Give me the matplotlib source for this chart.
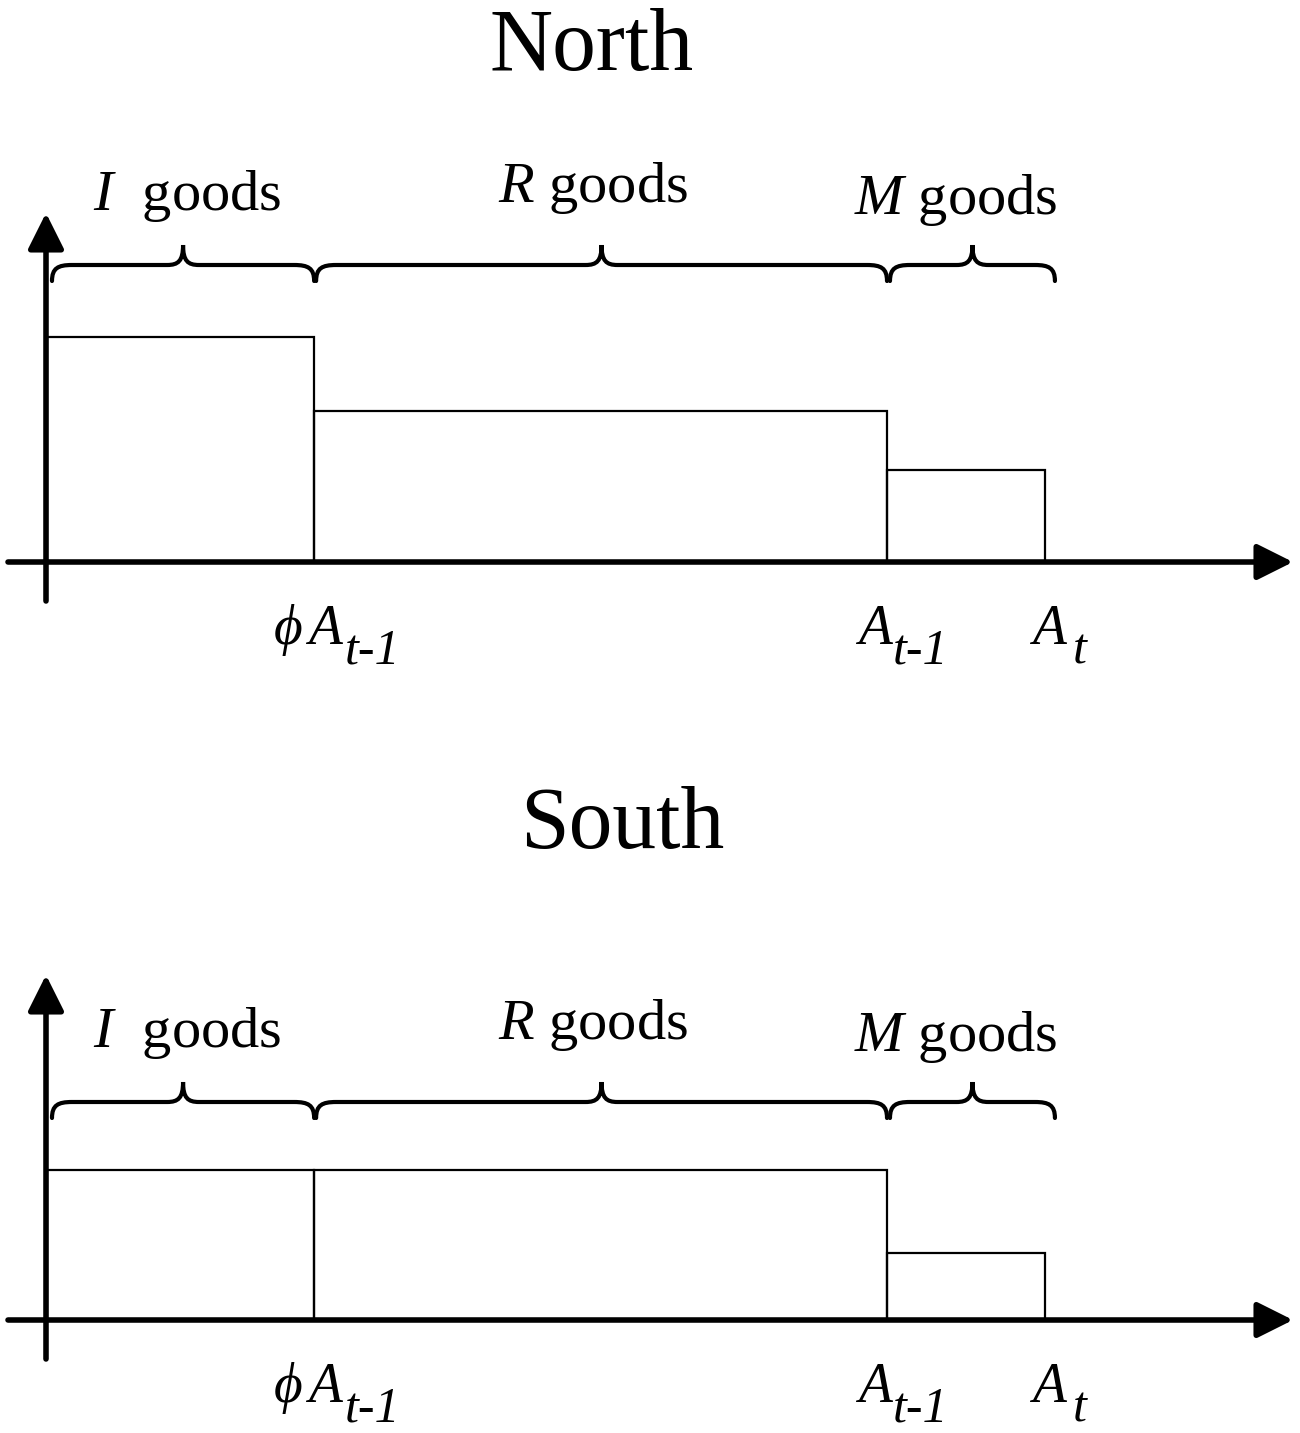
import numpy as np
import matplotlib
matplotlib.use('Agg')
import matplotlib.pyplot as plt
from matplotlib.path import Path
from matplotlib.patches import PathPatch

plt.rcParams['font.family'] = ['Liberation Serif', 'DejaVu Serif']
plt.rcParams['mathtext.fontset'] = 'custom'
plt.rcParams['mathtext.it'] = 'Liberation Serif:italic'
plt.rcParams['mathtext.rm'] = 'Liberation Serif'

# Data: interval edges 0, phi*A_{t-1}, A_{t-1}, A_t and bar heights per region
edges = [0.0, 0.318, 1.0, 1.188]
north_heights = [2.25, 1.51, 0.92]
south_heights = [1.50, 1.50, 0.67]
good_types = ['I', 'R', 'M']
good_labels = [r'$I$  goods', r'$R$ goods', r'$M$ goods']
panels = ['North', 'South']

# pixel -> data unit conversion (both axes span full figure width)
PX_X = 1 / 840.0
PX_Y = 1 / 100.0


def draw_brace(ax, x0, x1, y, lw=3.0):
    """Horizontal curly brace, opening downward, tip pointing up."""
    xc = (x0 + x1) / 2
    e, d, r, t = 16 * PX_Y, 20 * PX_Y, 20 * PX_X, 16 * PX_X
    verts = [
        (x0, y - e), (x0, y - 0.2 * e), (x0 + 0.3 * r, y), (x0 + r, y),
        (xc - t, y),
        (xc - 0.3 * t, y), (xc, y + 0.2 * d), (xc, y + d),
        (xc, y + 0.2 * d), (xc + 0.3 * t, y), (xc + t, y),
        (x1 - r, y),
        (x1 - 0.3 * r, y), (x1, y - 0.2 * e), (x1, y - e),
    ]
    codes = [Path.MOVETO, Path.CURVE4, Path.CURVE4, Path.CURVE4,
             Path.LINETO,
             Path.CURVE4, Path.CURVE4, Path.CURVE4,
             Path.CURVE4, Path.CURVE4, Path.CURVE4,
             Path.LINETO,
             Path.CURVE4, Path.CURVE4, Path.CURVE4]
    ax.add_patch(PathPatch(Path(verts, codes), fill=False, lw=lw,
                           edgecolor='black', capstyle='round'))


def draw_panel(ax, heights, title, title_x, title_y, brace_y, y_top):
    # bars
    ax.bar(edges[:-1], heights, width=np.diff(edges), align='edge',
           fill=False, edgecolor='black', linewidth=1.6)

    # axes with arrows
    arrow = dict(arrowstyle='-|>,head_length=1.1,head_width=0.55',
                 lw=4, color='black', mutation_scale=20,
                 shrinkA=0, shrinkB=0)
    ax.annotate('', xy=(1246 * PX_X, 0), xytext=(-39 * PX_X, 0),
                arrowprops=arrow)
    ax.annotate('', xy=(-1 * PX_X, y_top), xytext=(-1 * PX_X, -0.39),
                arrowprops=arrow)

    # braces and labels
    spans = [(edges[0] + 5 * PX_X, edges[1]),
             (edges[1] + 2 * PX_X, edges[2]),
             (edges[2] + 3 * PX_X, edges[3] + 10 * PX_X)]
    lifts = [55, 63, 51]
    shifts = [4, -9, -17]
    for (a, b), lab, lift, sh in zip(spans, good_labels, lifts, shifts):
        draw_brace(ax, a, b, brace_y)
        ax.text((a + b) / 2 + sh * PX_X, brace_y + lift * PX_Y, lab,
                ha='center', va='baseline', fontsize=42)

    # tick labels under the x-axis
    base_y, sub_y = -82 * PX_Y, -102 * PX_Y
    ax.text(edges[1] - 12 * PX_X, base_y, '\u03d5', ha='right', va='baseline',
            fontsize=40, style='italic')
    for e, a_off, sub, s_off in [(edges[1], -6, 't-1', 31),
                                 (edges[2], -29, 't-1', 6),
                                 (edges[3], -13, 't', 28)]:
        ax.text(e + a_off * PX_X, base_y, 'A', ha='left', va='baseline',
                fontsize=40, style='italic')
        ax.text(e + s_off * PX_X, sub_y, sub, ha='left', va='baseline',
                fontsize=36, style='italic')

    ax.text(title_x, title_y, title, ha='center', va='baseline', fontsize=63)


fig = plt.figure(figsize=(13, 14.33), dpi=100)

ax_n = fig.add_axes([0, 0.5, 1, 0.5])
ax_n.set_xlim(-47 * PX_X, (1300 - 47) * PX_X)
ax_n.set_ylim(-(716.5 - 562) * PX_Y, 562 * PX_Y)
draw_panel(ax_n, north_heights, panels[0], (592 - 47) * PX_X,
           (562 - 70) * PX_Y, (562 - 265) * PX_Y, (562 - 213) * PX_Y)

ax_s = fig.add_axes([0, 0, 1, 0.5])
ax_s.set_xlim(-47 * PX_X, (1300 - 47) * PX_X)
ax_s.set_ylim(-(1433 - 1320) * PX_Y, (1320 - 716.5) * PX_Y)
draw_panel(ax_s, south_heights, panels[1], (622 - 47) * PX_X,
           (1320 - 848) * PX_Y, (1320 - 1102) * PX_Y, (1320 - 975) * PX_Y)

for ax in (ax_n, ax_s):
    ax.axis('off')

fig.savefig('out.png', dpi=100, facecolor='white')
